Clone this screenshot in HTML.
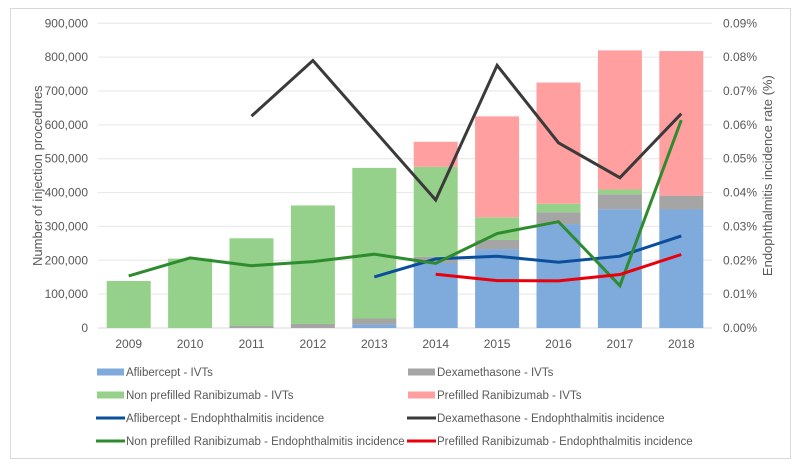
<!DOCTYPE html>
<html><head><meta charset="utf-8"><style>
body{margin:0;background:#fff;}
svg{display:block;font-family:"Liberation Sans",sans-serif;}
</style></head><body>
<svg id="chart" width="799" height="469">
<rect x="10.5" y="8.5" width="780" height="450" fill="#fff" stroke="#d9d9d9"/>
<g id="grid"></g><g id="bars"></g><g id="lines"></g><g id="axes"></g><g id="legend"></g>
</svg>
<script>
const years=["2009","2010","2011","2012","2013","2014","2015","2016","2017","2018"];
const aflibercept=[0,0,0,0,10000,192000,233000,307000,351000,350000];
const dexamethasone=[0,0,6000,12000,18000,18000,27000,35000,44000,41000];
const nonPrefilled=[139000,205000,259000,350000,445000,266000,67000,25000,14000,0];
const prefilled=[0,0,0,0,0,74000,298000,358000,411000,427000];
const afliRate=[null,null,null,null,0.0151,0.0204,0.0212,0.0194,0.0212,0.0272];
const dexRate=[null,null,0.0626,0.079,0.0584,0.0378,0.0776,0.0547,0.0444,0.0633];
const nonPreRate=[0.0154,0.0207,0.0184,0.0196,0.0218,0.0191,0.0279,0.0314,0.0125,0.0614];
const preRate=[null,null,null,null,null,0.0159,0.014,0.0139,0.0158,0.0217];
const leftTicks=[0,100000,200000,300000,400000,500000,600000,700000,800000,900000];
const rightTicks=[0,0.01,0.02,0.03,0.04,0.05,0.06,0.07,0.08,0.09];

const NS="http://www.w3.org/2000/svg";
const X0=98,X1=712,Y0=328,Y1=23.3;
const bw=(X1-X0)/years.length;
const xc=i=>X0+bw*(i+0.5);
const yL=v=>Y0-(v/900000)*(Y0-Y1);
const yR=v=>Y0-(v/0.09)*(Y0-Y1);
function mk(tag,attrs,parent,text){const e=document.createElementNS(NS,tag);for(const k in attrs)e.setAttribute(k,attrs[k]);if(text!==undefined)e.textContent=text;parent.appendChild(e);return e;}
const grid=document.getElementById('grid'),bars=document.getElementById('bars'),lines=document.getElementById('lines'),axes=document.getElementById('axes'),legend=document.getElementById('legend');
const fmt=v=>v.toLocaleString('en-US');
leftTicks.forEach((t,i)=>{
  const y=yL(t);
  const g=mk('line',{x1:X0,x2:X1,y1:y,y2:y,stroke:i===0?'#d9d9d9':'#e6e6e6','stroke-width':1},grid);
  
  
  const tx=mk('text',{x:88,y:y+4,'text-anchor':'end','font-size':12,fill:'#595959'},axes,fmt(t));
  
  
});
rightTicks.forEach(t=>{
  const tx=mk('text',{x:723,y:yR(t)+4,'font-size':12,fill:'#595959'},axes,t.toFixed(2)+'%');
  
  
});
years.forEach((yr,i)=>{
  const tx=mk('text',{x:xc(i),y:348,'text-anchor':'middle','font-size':12,fill:'#595959'},axes,yr);
  
  
});
const t1=mk('text',{x:0,y:0,'text-anchor':'middle','font-size':13,fill:'#595959',transform:`translate(42,${(Y0+Y1)/2}) rotate(-90)`},axes,'Number of injection procedures');


const t2=mk('text',{x:0,y:0,'text-anchor':'middle','font-size':13,fill:'#595959',transform:`translate(772,${(Y0+Y1)/2}) rotate(-90)`},axes,'Endophthalmitis incidence rate (%)');



const stacks=[[aflibercept,'#7faadc','bar-aflibercept'],[dexamethasone,'#a5a5a5','bar-dexamethasone'],[nonPrefilled,'#95d18a','bar-non-prefilled'],[prefilled,'#ff9f9f','bar-prefilled']];
years.forEach((yr,i)=>{
  let base=0;
  stacks.forEach(([arr,col,name])=>{
    const v=arr[i];
    if(v>0){
      const r=mk('rect',{x:xc(i)-22,width:44,y:yL(base+v),height:yL(base)-yL(base+v),fill:col},bars);
      
      
    }
    base+=v;
  });
});
const lns=[[afliRate,'#0b4f9c','line-aflibercept'],[dexRate,'#3a3a3a','line-dexamethasone'],[nonPreRate,'#2e8b2e','line-non-prefilled'],[preRate,'#e8000b','line-prefilled']];
lns.forEach(([arr,col,name])=>{
  const pts=[];arr.forEach((v,i)=>{if(v!==null)pts.push(xc(i).toFixed(1)+','+yR(v).toFixed(1));});
  const p=mk('polyline',{points:pts.join(' '),fill:'none',stroke:col,'stroke-width':3,'stroke-linejoin':'miter'},lines);
  
  
});
const leg=[['Aflibercept - IVTs','#7faadc',0,97,372],['Dexamethasone - IVTs','#a5a5a5',0,408,372],
['Non prefilled Ranibizumab - IVTs','#95d18a',0,97,395],['Prefilled Ranibizumab - IVTs','#ff9f9f',0,408,395],
['Aflibercept - Endophthalmitis incidence','#0b4f9c',1,97,418],['Dexamethasone - Endophthalmitis incidence','#3a3a3a',1,408,418],
['Non prefilled Ranibizumab - Endophthalmitis incidence','#2e8b2e',1,97,441],['Prefilled Ranibizumab - Endophthalmitis incidence','#e8000b',1,408,441]];
leg.forEach(([lab,col,isLine,x,y])=>{
  const g=mk('g',{},legend);
  
  
  if(isLine) mk('line',{x1:x-1,x2:x+28,y1:y,y2:y,stroke:col,'stroke-width':3},g);
  else mk('rect',{x:x,y:y-3.5,width:27,height:7,fill:col},g);
  mk('text',{x:x+29,y:y+4,'font-size':11.5,fill:'#595959'},g,lab);
});
</script>
</body></html>
